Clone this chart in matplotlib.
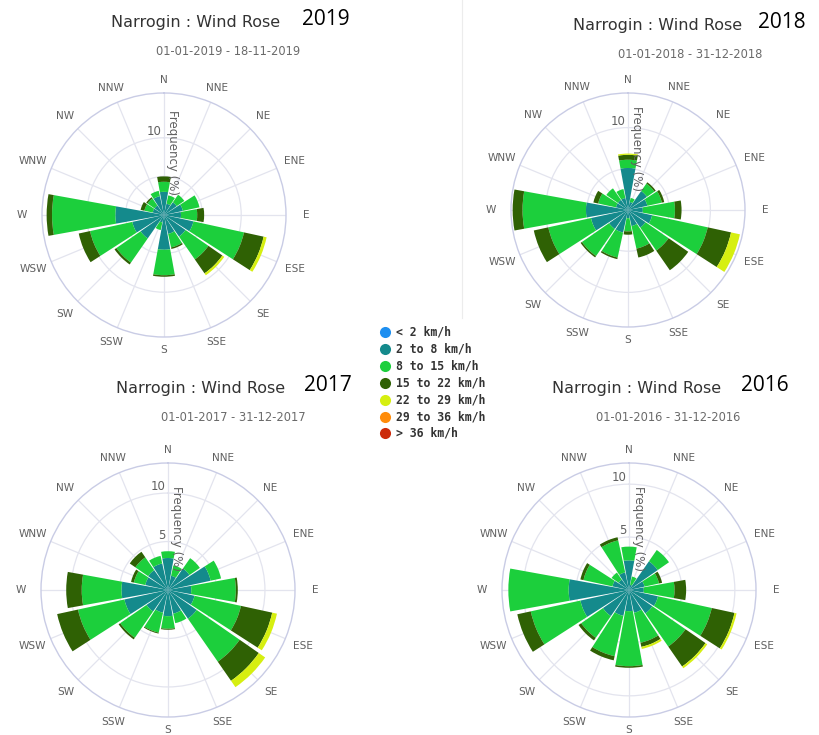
import matplotlib
matplotlib.use("Agg")
import matplotlib.pyplot as plt
import numpy as np

# ---- data (frequency %, per speed band) ----
directions = ['N', 'NNE', 'NE', 'ENE', 'E', 'ESE', 'SE', 'SSE',
              'S', 'SSW', 'SW', 'WSW', 'W', 'WNW', 'NW', 'NNW']
speed_bins = ['< 2 km/h', '2 to 8 km/h', '8 to 15 km/h', '15 to 22 km/h',
              '22 to 29 km/h', '29 to 36 km/h', '> 36 km/h']
bin_colors = ['#1e8ff0', '#148a8c', '#1ccf3c', '#2f6104',
              '#d6ef10', '#ff8c0a', '#cc2a0a']
years = ['2019', '2018', '2017', '2016']
periods = ['01-01-2019 - 18-11-2019', '01-01-2018 - 31-12-2018',
           '01-01-2017 - 31-12-2017', '01-01-2016 - 31-12-2016']

# bands: 2-8, 8-15, 15-22, 22-29 km/h (the other bands are ~0)
y2019_2to8 = [3.0, 1.5, 2.0, 2.5, 2.2, 3.9, 3.4, 2.5, 4.5, 1.0, 3.7, 4.2, 6.3, 1.5, 1.5, 2.5]
y2019_8to15 = [1.3, 1.1, 1.2, 2.2, 2.1, 6.7, 3.6, 1.8, 3.3, 1.0, 3.8, 5.6, 8.2, 1.1, 1.1, 0.7]
y2019_15to22 = [0.7, 0.0, 0.0, 0.0, 0.9, 2.6, 2.2, 0.2, 0.2, 0.0, 0.3, 1.5, 0.7, 0.5, 0.2, 0.0]
y2019_22to29 = [0.0, 0.0, 0.0, 0.0, 0.0, 0.4, 0.3, 0.0, 0.0, 0.0, 0.0, 0.0, 0.0, 0.0, 0.0, 0.0]

y2018_2to8 = [5.1, 1.0, 2.8, 2.4, 1.8, 3.0, 2.6, 2.0, 1.0, 2.8, 2.8, 4.6, 5.1, 1.5, 1.5, 1.5]
y2018_8to15 = [1.0, 0.5, 1.1, 1.8, 3.9, 6.9, 3.4, 2.8, 1.6, 3.1, 4.0, 5.3, 7.7, 2.2, 1.7, 1.1]
y2018_15to22 = [0.6, 0.0, 0.2, 0.3, 0.8, 2.9, 2.9, 1.1, 0.4, 0.2, 0.2, 1.8, 1.2, 0.6, 0.0, 0.0]
y2018_22to29 = [0.15, 0.0, 0.0, 0.0, 0.0, 1.1, 0.0, 0.0, 0.0, 0.0, 0.0, 0.0, 0.0, 0.0, 0.0, 0.0]

y2017_2to8 = [3.3, 1.5, 2.7, 4.5, 2.4, 2.8, 3.6, 2.5, 2.7, 2.4, 2.7, 4.6, 4.8, 2.4, 2.5, 2.8]
y2017_8to15 = [0.7, 1.1, 1.3, 1.1, 4.6, 4.9, 5.4, 1.0, 1.3, 2.1, 3.3, 4.9, 4.1, 1.2, 1.6, 0.8]
y2017_15to22 = [0.0, 0.0, 0.0, 0.0, 0.2, 3.3, 2.4, 0.0, 0.1, 0.1, 0.2, 2.2, 1.6, 0.3, 0.7, 0.0]
y2017_22to29 = [0.0, 0.0, 0.0, 0.0, 0.0, 0.5, 0.8, 0.0, 0.0, 0.0, 0.0, 0.0, 0.0, 0.0, 0.0, 0.0]

y2016_2to8 = [2.8, 0.5, 3.3, 1.5, 1.4, 2.8, 2.7, 2.2, 2.0, 2.5, 3.0, 4.7, 5.7, 1.6, 1.2, 1.7]
y2016_8to15 = [1.3, 0.8, 1.3, 1.4, 2.9, 5.2, 3.8, 2.9, 5.2, 3.9, 2.5, 4.8, 5.7, 2.8, 0.8, 3.1]
y2016_15to22 = [0.0, 0.0, 0.0, 0.3, 1.1, 2.2, 2.3, 0.4, 0.15, 0.4, 0.3, 1.3, 0.0, 0.3, 0.0, 0.3]
y2016_22to29 = [0.0, 0.0, 0.0, 0.0, 0.0, 0.2, 0.2, 0.2, 0.0, 0.0, 0.0, 0.0, 0.0, 0.0, 0.0, 0.0]

series = {
    '2019': [y2019_2to8, y2019_8to15, y2019_15to22, y2019_22to29],
    '2018': [y2018_2to8, y2018_8to15, y2018_15to22, y2018_22to29],
    '2017': [y2017_2to8, y2017_8to15, y2017_15to22, y2017_22to29],
    '2016': [y2016_2to8, y2016_8to15, y2016_15to22, y2016_22to29],
}

# ---- layout (pixels) ----
W, H = 819, 735
# center x, center y, radius px, axis max, labelled ticks
panels = {
    '2019': (164, 215, 122, 15.8, [10]),
    '2018': (628, 210, 117, 14.2, [10]),
    '2017': (168, 590, 127, 13.1, [5, 10]),
    '2016': (629, 590, 127, 12.0, [5, 10]),
}
# title x center, title y, year x, subtitle x center
titles = {
    '2019': (196, 22, 326, 228),
    '2018': (658, 25, 782, 690),
    '2017': (201, 388, 328, 233),
    '2016': (637, 388, 765, 668),
}

fig = plt.figure(figsize=(W / 100, H / 100), dpi=100)
fig.patch.set_facecolor('white')

theta = np.radians(np.arange(16) * 22.5)
slot = 2 * np.pi / 16
grid_col = '#e3e4ee'

for yr in years:
    cx, cy, R, rmax, tick_lbls = panels[yr]
    ax = fig.add_axes([(cx - R) / W, 1 - (cy + R) / H, 2 * R / W, 2 * R / H],
                      projection='polar')
    ax.set_theta_zero_location('N')
    ax.set_theta_direction(-1)
    ax.set_ylim(0, rmax)
    ax.set_axisbelow(True)
    ax.set_yticks([5, 10])
    ax.set_yticklabels([])
    ax.set_xticks(theta)
    ax.set_xticklabels([])
    ax.tick_params(length=0)
    ax.grid(color=grid_col, lw=0.9)
    ax.spines['polar'].set_color('#c9cce5')
    ax.spines['polar'].set_linewidth(1.0)

    bottom = np.zeros(16)
    for vals, col in zip(series[yr], bin_colors[1:5]):
        vals = np.array(vals)
        ax.bar(theta, vals, width=slot * 0.91, bottom=bottom, color=col,
               edgecolor='none', zorder=3)
        bottom = bottom + vals

    # direction labels
    for th, name in zip(theta, directions):
        d = 13 + 7 * abs(np.sin(th))
        ax.text(th, rmax * (R + d) / R, name, ha='center', va='center',
                fontsize=7.6, color='#606060', clip_on=False)

    # tick labels and axis title
    for t in tick_lbls:
        ax.annotate(str(t), xy=(0, t), xytext=(-2, 4.5), textcoords='offset points',
                    ha='right', va='center', fontsize=8.5, color='#606060', zorder=5)
    ax.text(0.5 + 9 / (2 * R), 0.5 + 62 / (2 * R), 'Frequency (%)', transform=ax.transAxes,
            rotation=-90, ha='center', va='center', fontsize=8.5, color='#606060', zorder=5)

# overlay in pixel coordinates for titles and legend
ov = fig.add_axes([0, 0, 1, 1], zorder=-1)
ov.set_xlim(0, W)
ov.set_ylim(H, 0)
ov.axis('off')

for yr, per in zip(years, periods):
    tx, ty, yx, sx = titles[yr]
    ov.text(tx, ty, 'Narrogin : Wind Rose', ha='center', va='center',
            fontsize=11.5, color='#333333')
    ov.text(yx, ty - 3, yr, ha='center', va='center', fontsize=15,
            family='Open Sans', color='black')
    ov.text(sx, ty + 29, per, ha='center', va='center', fontsize=8.3,
            color='#6a6a6a')

# faint screenshot edge
ov.plot([462, 462], [0, 318], color='#ececec', lw=0.8)

# legend
leg_y = 332
for i, (lab, col) in enumerate(zip(speed_bins, bin_colors)):
    y = leg_y + i * 16.9
    ov.plot(385, y, 'o', ms=8, color=col, mec='none')
    ov.text(396, y, lab, ha='left', va='center', fontsize=8.3,
            family='DejaVu Sans Mono', fontweight='bold', color='#333333')

fig.savefig('out.png', dpi=100, facecolor='white')
